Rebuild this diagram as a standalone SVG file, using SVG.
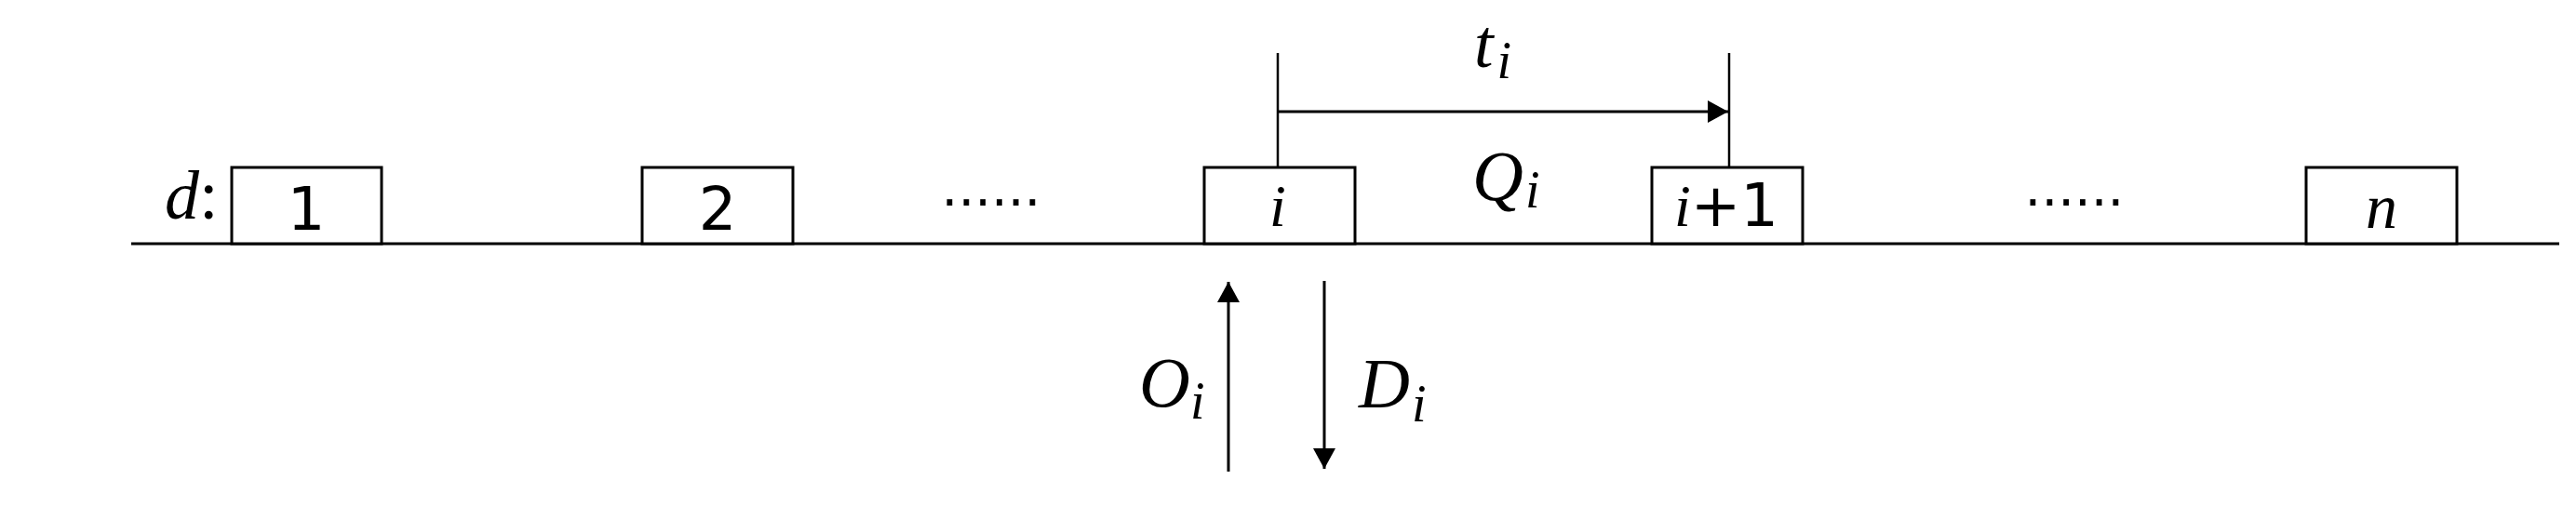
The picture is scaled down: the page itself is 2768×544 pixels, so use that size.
<svg xmlns="http://www.w3.org/2000/svg" width="2768" height="544" viewBox="0 0 2768 544">
<style>
.ln{stroke:#000;stroke-width:3;fill:none}
.tk{stroke:#000;stroke-width:2.5;fill:none}
.box{stroke:#000;stroke-width:3;fill:#fff}
.num{font-family:"DejaVu Sans",sans-serif;font-size:64px;fill:#000}
.it{font-family:"Liberation Serif","DejaVu Serif",serif;font-style:italic;fill:#000}
.dots{font-family:"DejaVu Sans",sans-serif;font-size:56px;fill:#000}
</style>
<defs>
<marker id="ah" markerUnits="userSpaceOnUse" markerWidth="24" markerHeight="24" refX="22" refY="12" orient="auto">
<path d="M0,0 L22,12 L0,24 Z" fill="#000"/>
</marker>
</defs>
<rect width="2768" height="544" fill="#fff"/>
<line class="ln" x1="141" y1="262" x2="2750" y2="262"/>
<text class="it" x="177" y="235" font-size="74">d<tspan font-style="normal">:</tspan></text>
<g id="n1"><rect class="box" x="249" y="180" width="161" height="82"/><text class="num" x="329" y="247" text-anchor="middle">1</text></g>
<g id="n2"><rect class="box" x="690" y="180" width="162" height="82"/><text class="num" x="771" y="247" text-anchor="middle">2</text></g>
<text class="dots" x="1065" y="221" text-anchor="middle">......</text>
<g id="ni"><rect class="box" x="1294" y="180" width="162" height="82"/><text class="it" x="1373" y="243" font-size="64" text-anchor="middle">i</text></g>
<g id="ni1"><rect class="box" x="1775" y="180" width="162" height="82"/><text x="1855" y="243" text-anchor="middle"><tspan class="it" font-size="64">i</tspan><tspan class="num" font-size="62">+1</tspan></text></g>
<text class="dots" x="2229" y="221" text-anchor="middle">......</text>
<g id="nn"><rect class="box" x="2478" y="180" width="162" height="82"/><text class="it" x="2559" y="245" font-size="68" text-anchor="middle">n</text></g>
<g id="connectors">
<line class="tk" x1="1373" y1="57" x2="1373" y2="180"/>
<line class="tk" x1="1858" y1="57" x2="1858" y2="179"/>
<line class="ln" x1="1373" y1="120" x2="1857" y2="120" marker-end="url(#ah)"/>
<line class="ln" x1="1320" y1="507" x2="1320" y2="303" marker-end="url(#ah)"/>
<line class="ln" x1="1423" y1="302" x2="1423" y2="504" marker-end="url(#ah)"/>
</g>
<text class="it" x="1584" y="72" font-size="74">t<tspan font-size="56" dx="4" dy="12">i</tspan></text>
<text class="it" x="1582" y="215" font-size="76">Q<tspan font-size="56" dx="2" dy="8">i</tspan></text>
<text class="it" x="1224" y="437" font-size="76">O<tspan font-size="56" dx="0" dy="13">i</tspan></text>
<text class="it" x="1460" y="438" font-size="76">D<tspan font-size="56" dx="2" dy="15">i</tspan></text>
</svg>
